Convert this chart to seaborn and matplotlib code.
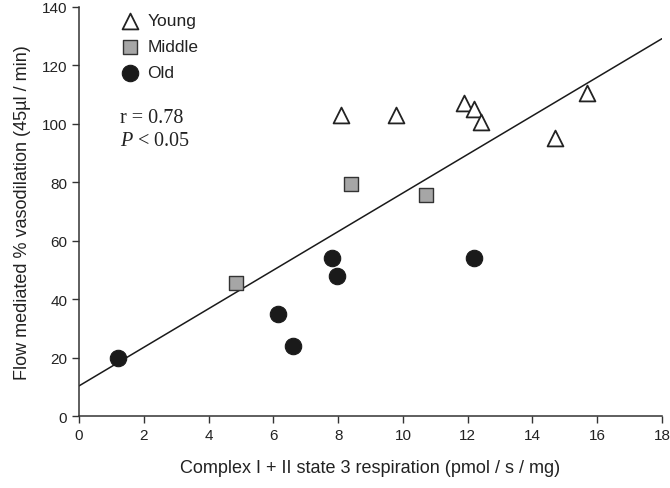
import pandas as pd
import numpy as np
import matplotlib
matplotlib.use('Agg')
import matplotlib.pyplot as plt
import seaborn as sns

# values
young_x = [8.1, 9.8, 11.9, 12.2, 12.4, 14.7, 15.7]
young_y = [103, 103, 107, 105, 100.5, 95, 110.5]
middle_x = [4.85, 8.4, 10.7]
middle_y = [45.5, 79.5, 75.5]
old_x = [1.2, 6.15, 6.6, 7.8, 7.95, 12.2]
old_y = [20, 35, 24, 54, 48, 54]

df = pd.DataFrame({
    'x': young_x + middle_x + old_x,
    'y': young_y + middle_y + old_y,
    'group': ['Young'] * len(young_x) + ['Middle'] * len(middle_x) + ['Old'] * len(old_x),
})

sns.set_style('ticks')
plt.rcParams['font.family'] = ['Liberation Sans', 'DejaVu Sans']
plt.rcParams['text.color'] = '#222222'
plt.rcParams['axes.labelcolor'] = '#222222'
plt.rcParams['xtick.labelcolor'] = '#222222'
plt.rcParams['ytick.labelcolor'] = '#222222'
plt.rcParams['mathtext.fontset'] = 'custom'
plt.rcParams['mathtext.it'] = 'Liberation Serif:italic'
plt.rcParams['mathtext.rm'] = 'Liberation Serif'

fig = plt.figure(figsize=(6.7, 4.89), dpi=100)
ax = fig.add_axes([0.118, 0.147, 0.87, 0.837])
ax.set_xlim(0, 18)
ax.set_ylim(0, 140)

# regression line over full x range
sns.regplot(data=df, x='x', y='y', scatter=False, ci=None, truncate=False,
            line_kws={'color': '#1a1a1a', 'lw': 1.1}, ax=ax)

styles = {
    'Young': dict(marker='^', color='white', edgecolor='#222222', s=130, linewidth=1.3),
    'Middle': dict(marker='s', color='#a6a6a6', edgecolor='#333333', s=95, linewidth=1.0),
    'Old': dict(marker='o', color='#1a1a1a', edgecolor='#1a1a1a', s=140, linewidth=0.8),
}
for g in ['Young', 'Middle', 'Old']:
    sub = df[df['group'] == g]
    sns.scatterplot(data=sub, x='x', y='y', ax=ax, label=g, zorder=3, **styles[g])

ax.set_xlim(0, 18)
ax.set_ylim(0, 140)
ax.set_xticks(np.arange(0, 19, 2))
ax.set_yticks(np.arange(0, 141, 20))
ax.tick_params(labelsize=11, length=5, width=1, color='#333333')
for s in ['left', 'bottom']:
    ax.spines[s].set_linewidth(1.1)
    ax.spines[s].set_color('#333333')
sns.despine(ax=ax)

ax.set_xlabel('Complex I + II state 3 respiration (pmol / s / mg)', fontsize=13, labelpad=12)
ax.set_ylabel('Flow mediated % vasodilation (45\u00b5l / min)', fontsize=13, labelpad=8)

leg = ax.legend(loc='upper left', bbox_to_anchor=(0.04, 1.01), frameon=False,
                fontsize=12.5, handletextpad=0.0, labelspacing=0.62, borderaxespad=0.2)

ax.text(0.07, 0.718, 'r = 0.78', transform=ax.transAxes, fontsize=14.5,
        family=['Liberation Serif', 'DejaVu Serif'])
ax.text(0.07, 0.663, '$P$ < 0.05', transform=ax.transAxes, fontsize=14.5,
        family=['Liberation Serif', 'DejaVu Serif'])

fig.savefig('out.png', dpi=100, facecolor='white')
